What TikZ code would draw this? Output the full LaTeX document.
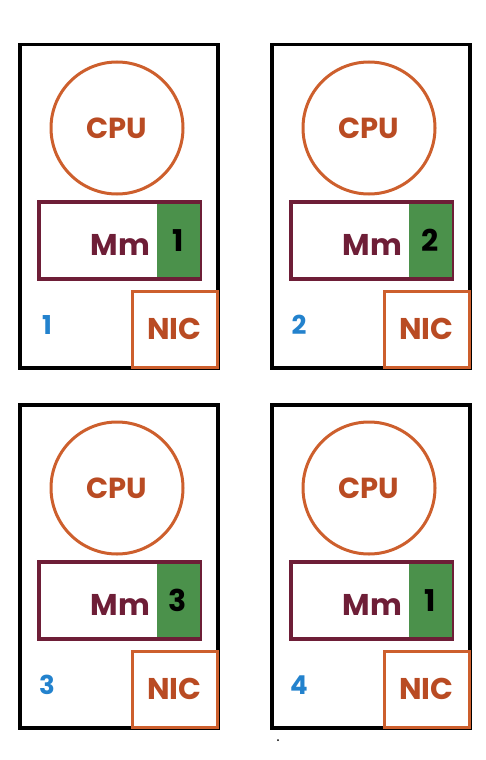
\documentclass[tikz,border=0pt]{standalone}
\usepackage{fontspec}
\setmainfont{Poppins}
\definecolor{cpuorange}{RGB}{205,95,45}
\definecolor{cputext}{RGB}{185,75,35}
\definecolor{memred}{RGB}{110,30,55}
\definecolor{memgreen}{RGB}{75,145,75}
\definecolor{idblue}{RGB}{35,130,205}

\tikzset{
  machine/.style={draw=black, line width=3.5pt, minimum width=198pt, minimum height=323pt, inner sep=0pt, anchor=north west},
  cpu/.style={circle, draw=cpuorange, line width=3pt, minimum size=132pt, inner sep=0pt, text=cputext, font=\bfseries\fontsize{29}{29}\selectfont},
  mem/.style={draw=memred, line width=3.5pt, minimum width=161pt, minimum height=77pt, inner sep=0pt, anchor=north west},
  slot/.style={fill=memgreen, minimum width=43pt, minimum height=73.5pt, inner sep=0pt, anchor=east, font=\bfseries\fontsize{30}{30}\selectfont},
  memtext/.style={text=memred, inner sep=0pt, anchor=east, font=\bfseries\fontsize{30}{30}\selectfont},
  nic/.style={draw=cpuorange, fill=white, line width=3pt, minimum width=85pt, minimum height=76pt, inner sep=0pt, anchor=south east, text=cputext, font=\bfseries\fontsize{30}{30}\selectfont},
  idlabel/.style={text=idblue, inner sep=0pt, font=\bfseries\fontsize{26}{26}\selectfont}
}

\begin{document}
\begin{tikzpicture}[x=1pt, y=-1pt]
  \useasboundingbox (0,0) rectangle (486,760);
  \foreach \n/\x/\y/\slotno in {1/18/43/1, 2/270/43/2, 3/18/403/3, 4/270/403/1} {
    \node[machine] (pc\n) at (\x,\y) {};
    \node[cpu] (cpu\n) at ([xshift=99pt, yshift=-85pt]pc\n.north west) {CPU};
    \node[mem] (mem\n) at ([xshift=19pt, yshift=-157pt]pc\n.north west) {};
    \node[slot] (slot\n) at ([xshift=-1.75pt]mem\n.east) {\slotno};
    \node[memtext] (mm\n) at ([xshift=-6pt, yshift=-5pt]slot\n.west) {Mm};
    \node[nic] (nic\n) at ([xshift=-1pt, yshift=1pt]pc\n.south east) {NIC};
    \node[idlabel] (id\n) at ([xshift=29pt, yshift=-282pt]pc\n.north west) {\n};
  }
  % stray mark under the last box
  \fill (278,740) circle (1pt);
\end{tikzpicture}
\end{document}
